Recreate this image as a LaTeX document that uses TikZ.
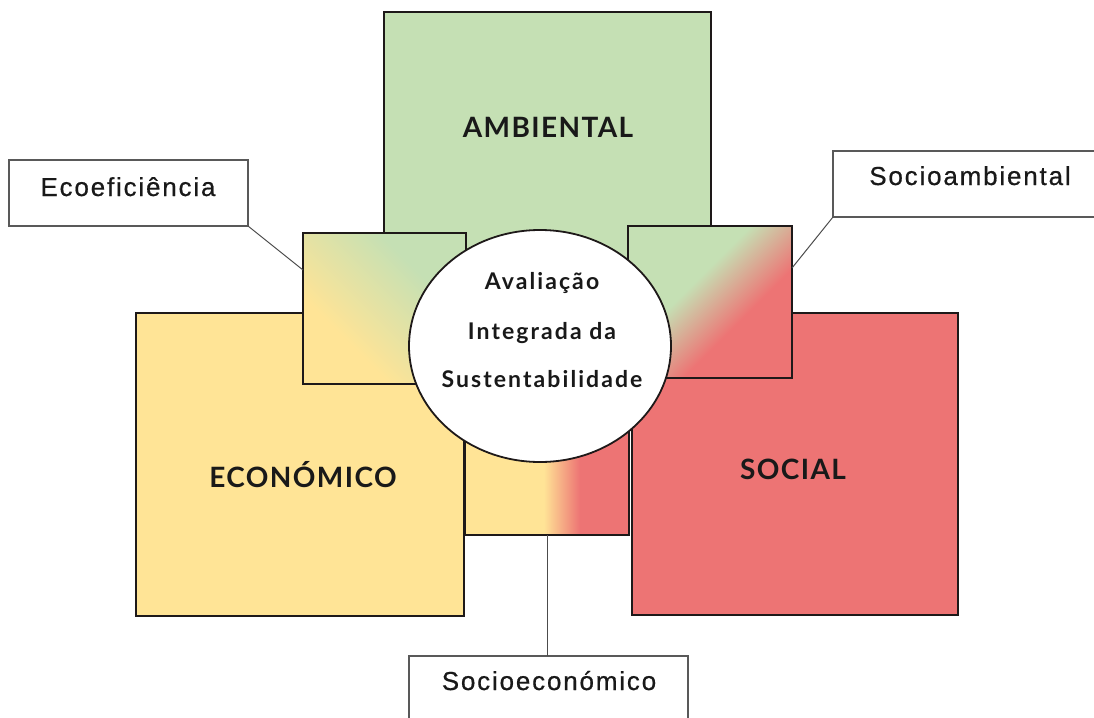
\documentclass[tikz,border=0pt]{standalone}
\usepackage{fontspec}
\usetikzlibrary{shapes.geometric}
\newfontfamily\labfont[LetterSpace=5]{Lato}
\newfontfamily\boxfont[LetterSpace=7,FakeBold=0.6]{Liberation Sans}
\newfontfamily\circfont[LetterSpace=9]{Lato}
\definecolor{ambc}{RGB}{197,224,180}
\definecolor{ecoc}{RGB}{255,228,150}
\definecolor{socc}{RGB}{237,116,116}
\definecolor{edgec}{RGB}{30,25,25}
\pgfdeclareverticalshading{ecoshade}{100bp}{color(0bp)=(ecoc); color(25bp)=(ecoc); color(34bp)=(ecoc); color(66bp)=(ambc); color(75bp)=(ambc); color(100bp)=(ambc)}
\pgfdeclareverticalshading{sashade}{100bp}{color(0bp)=(socc); color(25bp)=(socc); color(39bp)=(socc); color(58bp)=(ambc); color(75bp)=(ambc); color(100bp)=(ambc)}
\pgfdeclarehorizontalshading{seshade}{100bp}{color(0bp)=(ecoc); color(25bp)=(ecoc); color(49bp)=(ecoc); color(60bp)=(socc); color(75bp)=(socc); color(100bp)=(socc)}
\tikzset{
  sq/.style={draw=edgec, line width=2.2pt, inner sep=0pt, outer sep=0pt, anchor=north west},
  lbox/.style={draw=black!65, line width=1.3pt, fill=white, inner sep=0pt, outer sep=0pt, anchor=north west},
  conn/.style={draw=black!70, line width=1pt},
  bigtext/.style={anchor=base, inner sep=0pt, text=black!90, font={\labfont\bfseries\fontsize{28}{30}\selectfont}},
  boxtext/.style={anchor=base, inner sep=0pt, text=black!90, font={\boxfont\fontsize{26}{28}\selectfont}},
  circtext/.style={anchor=base, inner sep=0pt, text=black!90, font={\circfont\bfseries\fontsize{23}{26}\selectfont}}
}
\begin{document}
\begin{tikzpicture}[x=1pt,y=-1pt]
\useasboundingbox (0,0) rectangle (1094,717);
\clip (0,0) rectangle (1094,717);
% big squares
\node[sq, fill=ambc, minimum width=327, minimum height=300] (amb) at (384,12) {};
\node[sq, fill=ecoc, minimum width=328, minimum height=303] (eco) at (136,313) {};
\node[sq, fill=socc, minimum width=326, minimum height=302] (soc) at (632,313) {};
% intersection squares
\node[sq, shade, shading=ecoshade, shading angle=-45, minimum width=163, minimum height=151] (ecoef) at (303,233) {};
\node[sq, shade, shading=sashade, shading angle=45, minimum width=164, minimum height=152] (saq) at (628,226) {};
\node[sq, shade, shading=seshade, minimum width=164, minimum height=151] (seq) at (465,384) {};
% centre ellipse
\node[draw=edgec, line width=1.8pt, fill=white, ellipse, inner sep=0pt, minimum width=262, minimum height=232] (ais) at (540,346) {};
\node[circtext] (t1) at (542,289) {Avaliação};
\node[circtext] (t2) at (542,339) {Integrada da};
\node[circtext] (t3) at (542,387) {Sustentabilidade};
% main labels
\node[bigtext] (tamb) at (548,137) {AMBIENTAL};
\node[bigtext] (teco) at (303,487) {ECONÓMICO};
\node[bigtext] (tsoc) at (793,479) {SOCIAL};
% label boxes
\node[lbox, minimum width=239, minimum height=66] (leco) at (9,160) {};
\node[boxtext] (lecot) at (128,196) {Ecoeficiência};
\node[lbox, minimum width=300, minimum height=66] (lsa) at (833,151) {};
\node[boxtext] (lsat) at (970,185) {Socioambiental};
\node[lbox, minimum width=279, minimum height=90] (lse) at (409,656) {};
\node[boxtext] (lset) at (549,690) {Socioeconómico};
% connectors
\draw[conn] (leco.south east) -- (ecoef.west |- 0,270);
\draw[conn] (lsa.south west) -- (saq.east |- 0,268);
\draw[conn] (seq.south) -- (seq.south |- lse.north);
\end{tikzpicture}
\end{document}
